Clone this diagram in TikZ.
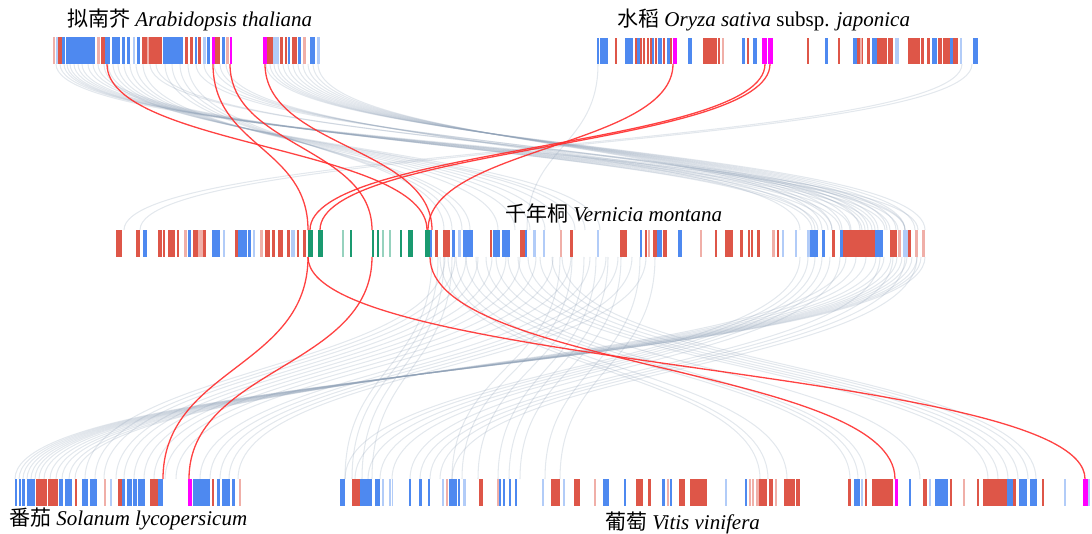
\documentclass[tikz,border=0pt]{standalone}
\usepackage{fontspec}
\setmainfont{Liberation Serif}
\newfontfamily\cjk{Noto Sans CJK SC}
\definecolor{cR}{RGB}{222,86,72}
\definecolor{cr}{RGB}{240,175,168}
\definecolor{cB}{RGB}{78,137,240}
\definecolor{cb}{RGB}{178,204,248}
\definecolor{cM}{RGB}{255,0,255}
\definecolor{cG}{RGB}{26,154,112}
\definecolor{cg}{RGB}{150,210,190}
\definecolor{glinkc}{RGB}{140,158,180}
\definecolor{rlinkc}{RGB}{255,45,45}
\tikzset{
  glink/.style={draw=glinkc, line width=1.05pt, opacity=0.24},
  rlink/.style={draw=rlinkc, line width=1.3pt, opacity=0.9},
  lab/.style={anchor=base west, inner sep=0pt, font=\fontsize{21}{24}\selectfont}
}
\begin{document}
\begin{tikzpicture}[x=1pt,y=-1pt]
\useasboundingbox (0,0) rectangle (1092,534);
% ---------- grey links: top -> middle
\foreach \a/\b in {56/905, 60/918, 64/898, 67/885, 70/872, 74/862, 78/850, 82/840, 88/828, 93/818, 98/812, 104/600, 108/585, 113/575, 118/560, 124/545, 130/530, 136/515, 143/498, 150/905, 156/890, 165/470, 172/462, 180/452, 188/444, 196/875, 204/865, 214/832, 220/815, 226/800, 266/925, 270/915, 274/905, 278/896, 283/887, 288/878, 293/868, 298/860, 303/851, 308/842, 313/832, 318/822, 598/527, 962/124, 972/140}
  \draw[glink] (\a,64) .. controls (\a,147) and (\b,147) .. (\b,230);
% ---------- grey links: middle -> bottom
\foreach \a/\b in {925/15, 921/19, 917/23, 912/27, 907/31, 902/35, 897/39, 891/44, 884/50, 876/56, 866/62, 856/69, 846/75, 445/85, 455/95, 466/104, 478/116, 492/124, 506/134, 520/144, 536/154, 553/165, 571/176, 590/200, 606/210, 618/220, 632/229, 646/238, 432/345, 438/352, 444/362, 452/372, 560/452, 572/462, 584/478, 596/498, 608/509, 621/520, 640/545, 655/560, 800/345, 808/355, 815/368, 822/380, 830/392, 840/410, 880/420, 893/430, 905/440, 917/452, 440/760, 448/768, 456/787, 466/850, 476/858, 486/866, 496/920, 508/988, 518/998, 528/1008, 540/1018, 552/1028, 562/1036}
  \draw[glink] (\a,257) .. controls (\a,368) and (\b,368) .. (\b,479);
% ---------- red links
\foreach \a/\b in {107/427, 213/308, 230/372, 265/432, 673/428, 765/310, 770/320}
  \draw[rlink] (\a,64) .. controls (\a,147) and (\b,147) .. (\b,230);
\foreach \a/\b in {308/163, 372/189, 308/1085, 430/895}
  \draw[rlink] (\a,257) .. controls (\a,368) and (\b,368) .. (\b,479);
% ---------- Arabidopsis bar
\foreach \x/\w/\col in {53/2/r, 56/3/b, 58/4/R, 62/3/B, 66/4/B, 70/3/B, 73/22/B, 97/3/r, 101/4/R, 105/5/B, 112/8/B, 122/3/B, 127/3/B, 133/2/b, 137/3/B, 142/20/R, 147/2/r, 163/20/B, 185/3/R, 190/3/R, 195/2/B, 198/3/R, 203/3/b, 207/3/B, 212/3/M, 215/5/R, 222/3/B, 226/3/r, 230/2/M, 263/4/M, 267/6/R, 273/6/b, 280/3/R, 285/2/R, 288/2/B, 292/5/R, 298/3/B, 303/3/r, 310/5/B, 317/3/b}
  \fill[fill=c\col] (\x,37) rectangle ++(\w,27);
% ---------- Oryza bar
\foreach \x/\w/\col in {597/2/B, 600/2/B, 602/6/B, 615/2/R, 625/2/B, 627/6/B, 635/2/R, 637/3/B, 640/2/R, 643/2/R, 647/2/R, 650/2/R, 652/2/B, 655/2/R, 658/4/B, 663/2/R, 667/3/B, 670/2/R, 673/4/M, 688/4/B, 703/14/R, 718/2/R, 722/2/r, 742/3/B, 747/2/R, 753/4/B, 762/5/M, 768/5/M, 807/2/R, 825/3/B, 838/2/R, 853/4/B, 857/6/R, 860/2/r, 867/3/R, 872/5/B, 877/10/R, 888/5/R, 895/4/b, 908/4/R, 912/8/R, 921/3/R, 927/3/R, 932/5/B, 938/4/R, 943/7/R, 950/3/B, 953/5/R, 960/2/b, 973/5/B}
  \fill[fill=c\col] (\x,38) rectangle ++(\w,26);
% ---------- Vernicia bar
\foreach \x/\w/\col in {116/6/R, 136/4/R, 143/4/B, 158/4/R, 163/2/R, 168/7/R, 177/2/R, 184/3/r, 188/3/B, 193/5/R, 198/5/r, 203/3/R, 212/8/B, 223/2/b, 235/3/R, 238/9/B, 248/3/B, 253/2/b, 260/3/r, 265/5/R, 272/3/R, 278/5/R, 287/3/R, 291/4/b, 297/2/R, 303/3/R, 308/5/G, 318/5/G, 342/2/g, 350/2/G, 372/2/G, 377/2/G, 382/2/g, 389/2/g, 400/2/G, 408/5/G, 425/5/G, 430/2/B, 435/3/R, 443/7/R, 452/3/B, 458/3/b, 463/10/B, 490/2/R, 493/7/B, 502/8/B, 520/5/R, 525/2/B, 533/3/b, 543/2/b, 560/2/r, 570/3/R, 597/1.5/b, 620/7/R, 640/2/B, 645/2/R, 648/2/r, 653/4/R, 657/5/B, 663/4/R, 678/4/B, 700/2/r, 715/2/R, 725/8/R, 740/3/R, 748/2/R, 751/2/R, 757/3/R, 772/3/r, 777/2/R, 782/2/b, 795/2/b, 807/3/b, 810/8/B, 822/3/B, 832/3/R, 840/3/B, 843/32/R, 875/8/B, 890/3/R, 893/4/R, 898/3/r, 903/5/b, 908/3/R, 915/3/r, 922/3/r}
  \fill[fill=c\col] (\x,230) rectangle ++(\w,27);
% ---------- Solanum bar
\foreach \x/\w/\col in {15/2/B, 19/2/B, 22/3/B, 27/8/B, 36/6/R, 42/5/R, 48/5/R, 53/5/R, 59/4/B, 65/7/B, 75/2/R, 82/6/B, 90/7/B, 104/2/r, 110/2/b, 118/4/R, 122/3/B, 127/5/B, 133/4/B, 138/7/B, 150/8/R, 158/5/B, 188/4/M, 193/9/B, 202/8/B, 212/2/R, 217/3/B, 222/8/B, 232/3/B, 239/2/r}
  \fill[fill=c\col] (\x,479) rectangle ++(\w,27);
% ---------- Vitis bar
\foreach \x/\w/\col in {340/5/B, 352/8/R, 360/12/B, 375/5/B, 382/2/b, 389/2/b, 392/1/b, 409/2/B, 419/3/B, 428/2/B, 442/2/b, 446/2/r, 449/8/B, 458/2/B, 463/3/b, 479/4/R, 497/2/r, 499/2/B, 503/2/B, 509/2/B, 515/2/B, 542/2/b, 551/9/R, 563/2/b, 574/6/R, 594/2/r, 603/6/B, 624/2/B, 636/7/R, 648/3/R, 662/3/B, 667/2/r, 670/2/B, 679/6/R, 690/17/R, 725/2/b, 745/2/B, 749/2/r, 752/2/r, 756/3/r, 759/8/R, 769/4/R, 775/2/r, 784/11/R, 796/4/R, 848/3/R, 854/6/B, 861/2/b, 865/2/R, 872/21/R, 895/3/M, 909/2/B, 923/4/R, 929/2/b, 935/13/B, 950/2/R, 963/2/r, 977/2/R, 983/24/R, 1007/6/B, 1013/3/R, 1019/8/B, 1030/7/B, 1042/2/R, 1064/2/b, 1083/5/M, 1088/2/b}
  \fill[fill=c\col] (\x,479) rectangle ++(\w,27);
% ---------- labels
\node[lab] (lAra) at (67,27) {{\cjk 拟南芥} \textit{Arabidopsis thaliana}};
\node[lab] (lOry) at (617,27) {{\cjk 水稻} \textit{Oryza sativa} subsp. \textit{japonica}};
\node[lab] (lVer) at (505,222) {{\cjk 千年桐} \textit{Vernicia montana}};
\node[lab] (lSol) at (9,525) {{\cjk 番茄} \textit{Solanum lycopersicum}};
\node[lab] (lVit) at (605,529) {{\cjk 葡萄} \textit{Vitis vinifera}};
\end{tikzpicture}
\end{document}
